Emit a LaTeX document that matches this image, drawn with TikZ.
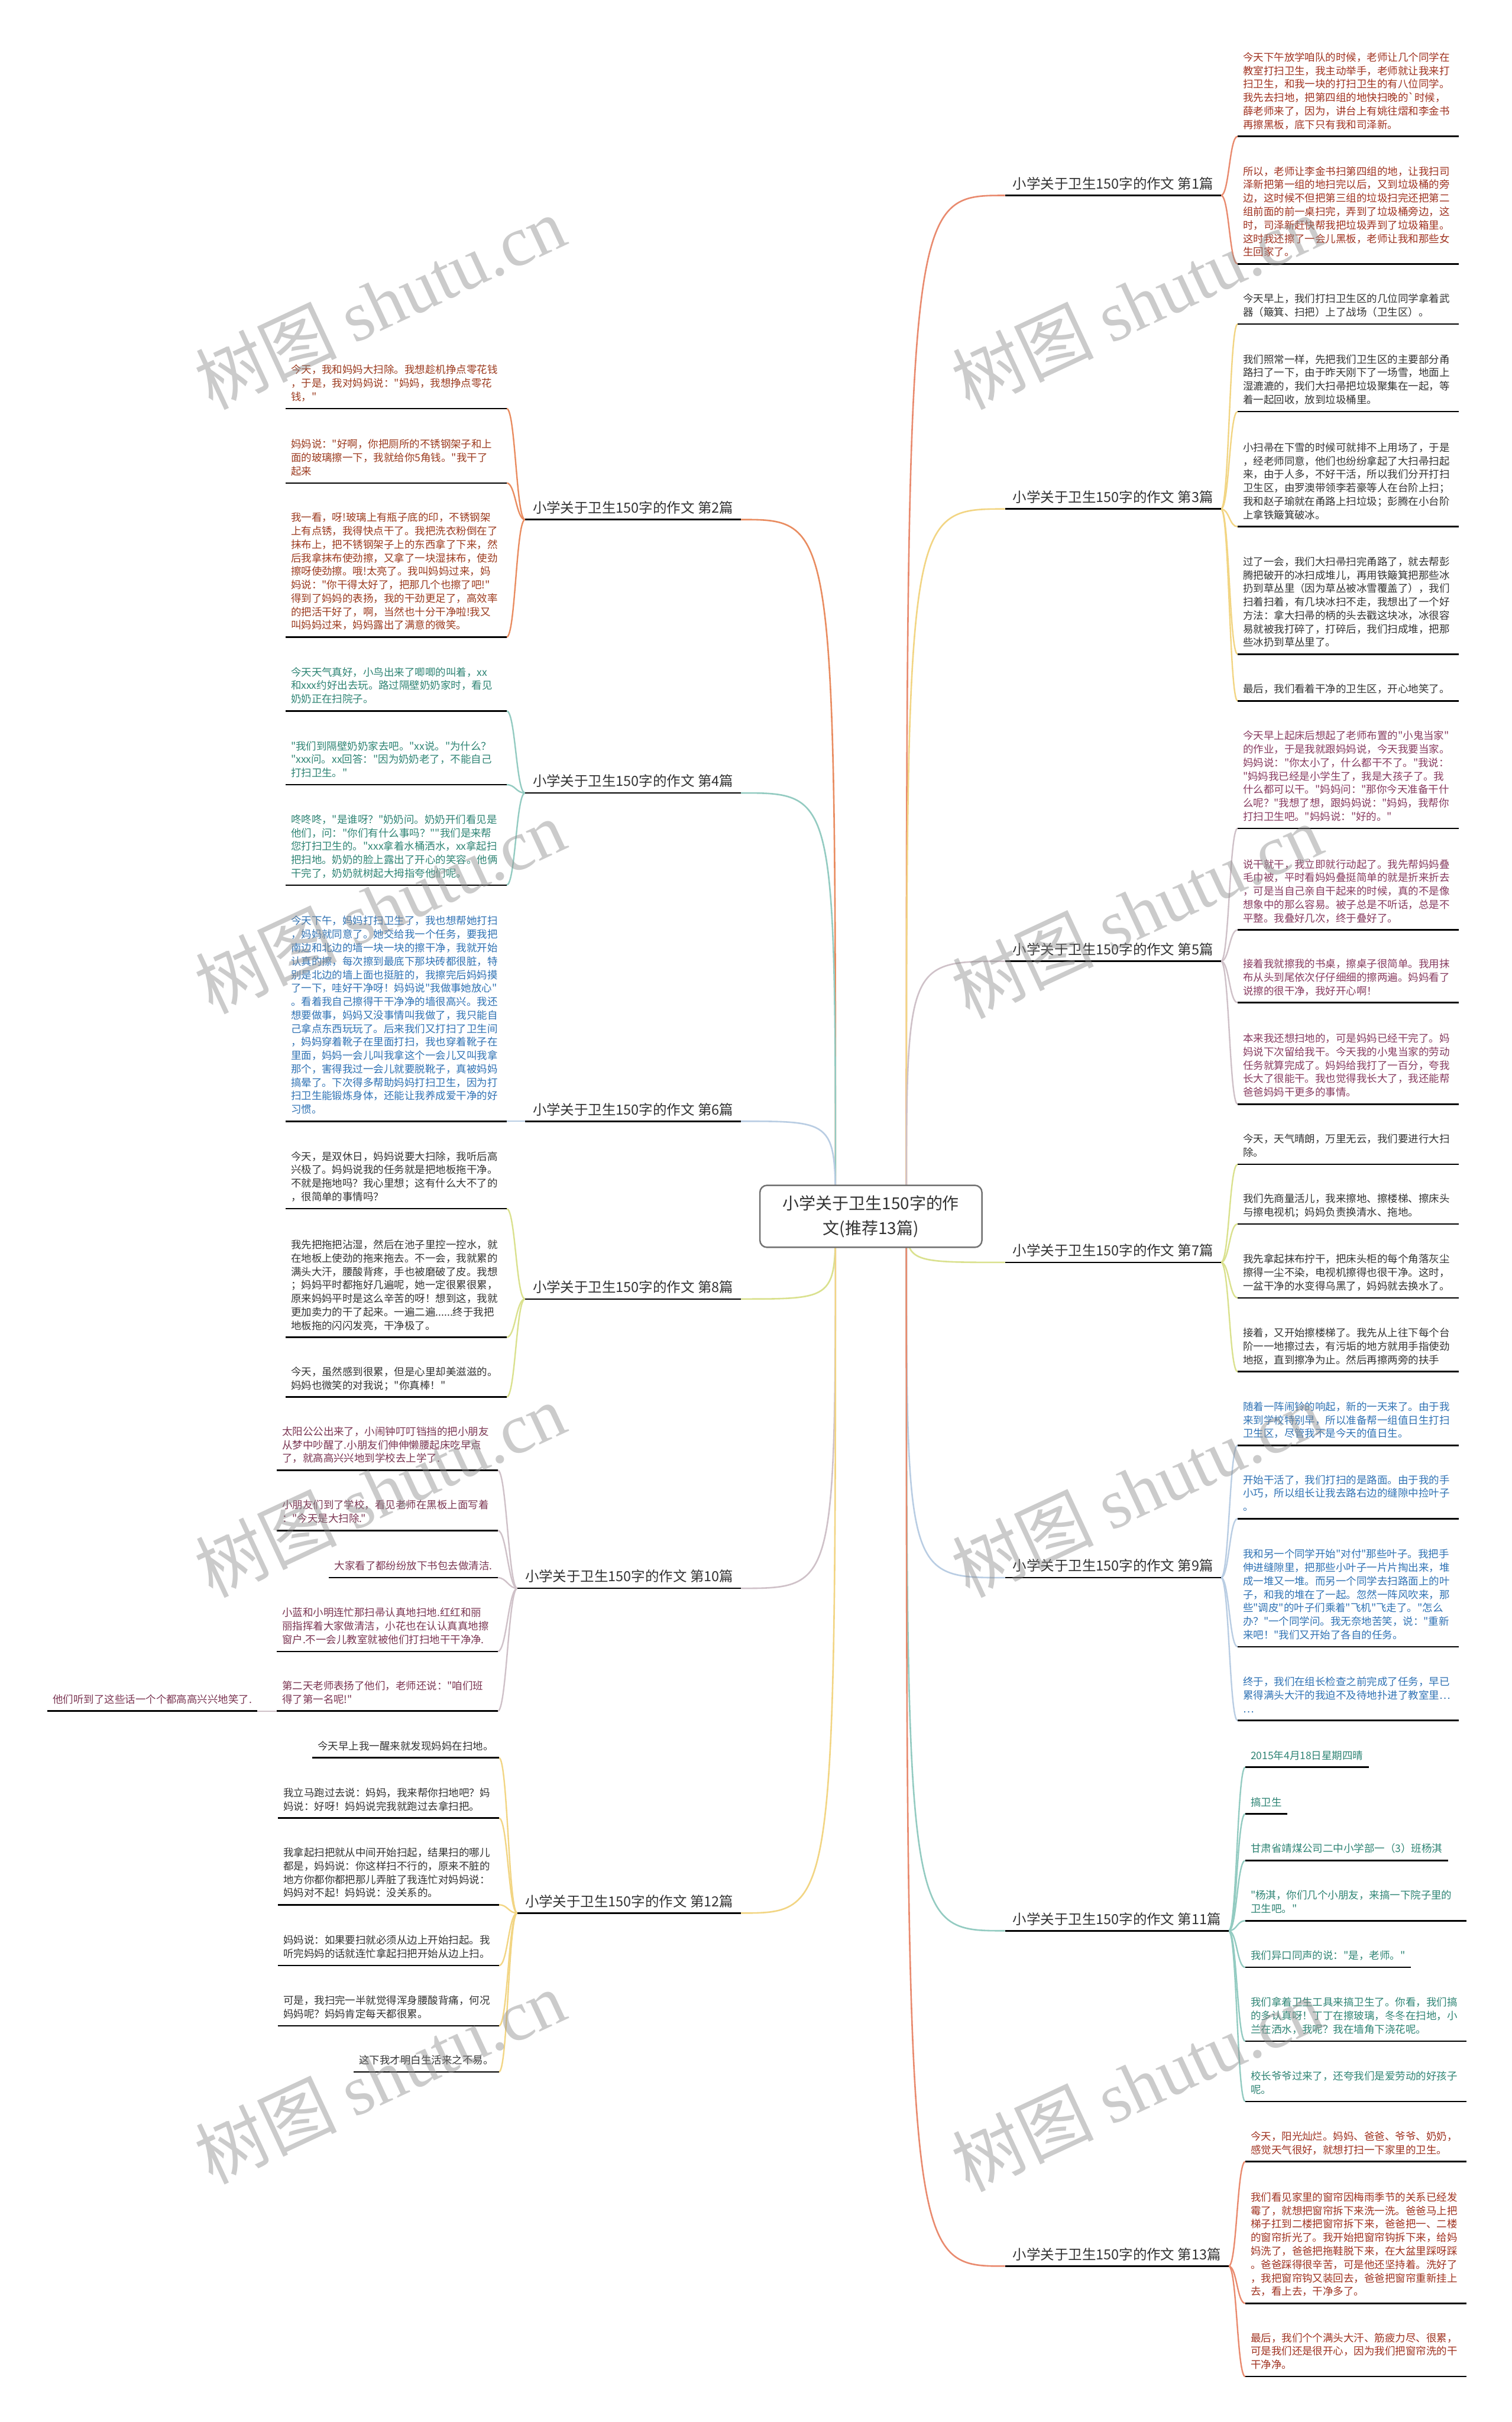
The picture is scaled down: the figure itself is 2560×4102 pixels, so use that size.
\documentclass[tikz,border=0pt]{standalone}
\usepackage{fontspec}
\setmainfont{Noto Sans CJK SC}[Ligatures=TeXOff]
\newfontfamily\wmfont{Liberation Serif}

\pgfdeclarelayer{background}
\pgfsetlayers{background,main}

\definecolor{cA}{HTML}{E98A6E}
\definecolor{cB}{HTML}{E98C60}
\definecolor{cC}{HTML}{F2D583}
\definecolor{cD}{HTML}{93CBC1}
\definecolor{cE}{HTML}{CFC1C8}
\definecolor{cF}{HTML}{B9CDE3}
\definecolor{cG}{HTML}{DAE18E}
\definecolor{tA}{HTML}{A03220}
\definecolor{tB}{HTML}{9C3A1E}
\definecolor{tK}{HTML}{333333}
\definecolor{tD}{HTML}{2E8474}
\definecolor{tE}{HTML}{883B60}
\definecolor{tF}{HTML}{2F72B4}
\definecolor{tJ}{HTML}{7B3552}

\newcommand\leaffont{\fontsize{17.5pt}{22.8pt}\selectfont}
\newcommand\labfont{\fontsize{23.5pt}{28pt}\selectfont}
\newcommand\rootfont{\fontsize{28pt}{42pt}\selectfont}
\newcommand\wmsize{\fontsize{120pt}{120pt}\selectfont}

\tikzset{
  tag/.style={anchor=south west, inner xsep=9pt, inner ysep=6.5pt, font=\leaffont, execute at end node=\strut},
  leaf/.style={tag, text width=356pt, align=left},
  lleaf/.style={leaf, anchor=south east},
  lab/.style={anchor=south west, inner xsep=13pt, inner ysep=2.6pt, font=\labfont, text=tK, execute at end node=\strut},
  llab/.style={lab, anchor=south east},
  branch/.style={draw=#1, line width=2.6pt},
  twig/.style={draw=#1, line width=2.4pt},
  ul/.style={draw=black, line width=2.6pt},
  wm/.style={rotate=25, text=black!45, opacity=0.45, font=\wmsize},
}

\begin{document}
\begin{tikzpicture}[x=1pt,y=-1pt]
\useasboundingbox (0,0) rectangle (2560,4102);
\begin{pgfonlayer}{background}
\fill[white] (0,0) rectangle (2560,4102);
\end{pgfonlayer}

\node[draw=black!55, line width=2.5pt, rounded corners=12pt, fill=white, minimum width=376pt, minimum height=105pt, align=center, font=\rootfont, text=tK] (root) at (1475,2060) {小学关于卫生150字的作\\文(推荐13篇)};
\coordinate (rootR) at ([xshift=60pt]root.center);
\coordinate (rootL) at ([xshift=-60pt]root.center);

% right side
\node[lab] (b1) at (1702,331) {小学关于卫生150字的作文 第1篇};
\node[leaf, text=tA] (b1a) at (2096,231) {今天下午放学咱队的时候，老师让几个同学在\\教室打扫卫生，我主动举手，老师就让我来打\\扫卫生，和我一块的打扫卫生的有八位同学。\\我先去扫地，把第四组的地快扫晚的`时候，\\薛老师来了，因为，讲台上有姚往熠和李金书\\再擦黑板，底下只有我和司泽新。};
\node[leaf, text=tA] (b1b) at (2096,447) {所以，老师让李金书扫第四组的地，让我扫司\\泽新把第一组的地扫完以后，又到垃圾桶的旁\\边，这时候不但把第三组的垃圾扫完还把第二\\组前面的前一桌扫完，弄到了垃圾桶旁边，这\\时，司泽新赶快帮我把垃圾弄到了垃圾箱里。\\这时我还擦了一会儿黑板，老师让我和那些女\\生回家了。};

\node[lab] (b3) at (1702,862) {小学关于卫生150字的作文 第3篇};
\node[leaf, text=tK] (b3a) at (2096,549) {今天早上，我们打扫卫生区的几位同学拿着武\\器（簸箕、扫把）上了战场（卫生区）。};
\node[leaf, text=tK] (b3b) at (2096,697) {我们照常一样，先把我们卫生区的主要部分甬\\路扫了一下，由于昨天刚下了一场雪，地面上\\湿漉漉的，我们大扫帚把垃圾聚集在一起，等\\着一起回收，放到垃圾桶里。};
\node[leaf, text=tK] (b3c) at (2096,892) {小扫帚在下雪的时候可就排不上用场了，于是\\，经老师同意，他们也纷纷拿起了大扫帚扫起\\来，由于人多，不好干活，所以我们分开打扫\\卫生区，由罗澳带领李若豪等人在台阶上扫；\\我和赵子瑜就在甬路上扫垃圾；彭腾在小台阶\\上拿铁簸箕破冰。};
\node[leaf, text=tK] (b3d) at (2096,1108) {过了一会，我们大扫帚扫完甬路了，就去帮彭\\腾把破开的冰扫成堆儿，再用铁簸箕把那些冰\\扔到草丛里（因为草丛被冰雪覆盖了），我们\\扫着扫着，有几块冰扫不走，我想出了一个好\\方法：拿大扫帚的柄的头去戳这块冰，冰很容\\易就被我打碎了，打碎后，我们扫成堆，把那\\些冰扔到草丛里了。};
\node[leaf, text=tK] (b3e) at (2096,1187) {最后，我们看着干净的卫生区，开心地笑了。};

\node[lab] (b5) at (1702,1628) {小学关于卫生150字的作文 第5篇};
\node[leaf, text=tE] (b5a) at (2096,1403) {今天早上起床后想起了老师布置的"小鬼当家"\\的作业，于是我就跟妈妈说，今天我要当家。\\妈妈说："你太小了，什么都干不了。"我说：\\"妈妈我已经是小学生了，我是大孩子了。我\\什么都可以干。"妈妈问："那你今天准备干什\\么呢？"我想了想，跟妈妈说："妈妈，我帮你\\打扫卫生吧。"妈妈说："好的。"};
\node[leaf, text=tE] (b5b) at (2096,1575) {说干就干，我立即就行动起了。我先帮妈妈叠\\毛巾被，平时看妈妈叠挺简单的就是折来折去\\，可是当自己亲自干起来的时候，真的不是像\\想象中的那么容易。被子总是不听话，总是不\\平整。我叠好几次，终于叠好了。};
\node[leaf, text=tE] (b5c) at (2096,1698) {接着我就擦我的书桌，擦桌子很简单。我用抹\\布从头到尾依次仔仔细细的擦两遍。妈妈看了\\说擦的很干净，我好开心啊！};
\node[leaf, text=tE] (b5d) at (2096,1870) {本来我还想扫地的，可是妈妈已经干完了。妈\\妈说下次留给我干。今天我的小鬼当家的劳动\\任务就算完成了。妈妈给我打了一百分，夸我\\长大了很能干。我也觉得我长大了，我还能帮\\爸爸妈妈干更多的事情。};

\node[lab] (b7) at (1702,2138) {小学关于卫生150字的作文 第7篇};
\node[leaf, text=tK] (b7a) at (2096,1972) {今天，天气晴朗，万里无云，我们要进行大扫\\除。};
\node[leaf, text=tK] (b7b) at (2096,2073) {我们先商量活儿，我来擦地、擦楼梯、擦床头\\与擦电视机；妈妈负责换清水、拖地。};
\node[leaf, text=tK] (b7c) at (2096,2198) {我先拿起抹布拧干，把床头柜的每个角落灰尘\\擦得一尘不染，电视机擦得也很干净。这时，\\一盆干净的水变得乌黑了，妈妈就去换水了。};
\node[leaf, text=tK] (b7d) at (2096,2323) {接着，又开始擦楼梯了。我先从上往下每个台\\阶一一地擦过去，有污垢的地方就用手指使劲\\地抠，直到擦净为止。然后再擦两旁的扶手};

\node[lab] (b9) at (1702,2672) {小学关于卫生150字的作文 第9篇};
\node[leaf, text=tF] (b9a) at (2096,2448) {随着一阵闹铃的响起，新的一天来了。由于我\\来到学校特别早，所以准备帮一组值日生打扫\\卫生区，尽管我不是今天的值日生。};
\node[leaf, text=tF] (b9b) at (2096,2572) {开始干活了，我们打扫的是路面。由于我的手\\小巧，所以组长让我去路右边的缝隙中捡叶子\\。};
\node[leaf, text=tF] (b9c) at (2096,2789) {我和另一个同学开始"对付"那些叶子。我把手\\伸进缝隙里，把那些小叶子一片片掏出来，堆\\成一堆又一堆。而另一个同学去扫路面上的叶\\子，和我的堆在了一起。忽然一阵风吹来，那\\些"调皮"的叶子们乘着"飞机"飞走了。"怎么\\办？"一个同学问。我无奈地苦笑，说："重新\\来吧！"我们又开始了各自的任务。};
\node[leaf, text=tF] (b9d) at (2096,2914) {终于，我们在组长检查之前完成了任务，早已\\累得满头大汗的我迫不及待地扑进了教室里…\\…};

\node[lab] (b11) at (1702,3270) {小学关于卫生150字的作文 第11篇};
\node[tag, text=tD] (b11a) at (2109,2993) {2015年4月18日星期四晴};
\node[tag, text=tD] (b11b) at (2109,3072) {搞卫生};
\node[tag, text=tD] (b11c) at (2109,3151) {甘肃省靖煤公司二中小学部一（3）班杨淇};
\node[leaf, text=tD] (b11d) at (2109,3253) {"杨淇，你们几个小朋友，来搞一下院子里的\\卫生吧。"};
\node[tag, text=tD] (b11e) at (2109,3332) {我们异口同声的说："是，老师。"};
\node[leaf, text=tD] (b11f) at (2109,3457) {我们拿着卫生工具来搞卫生了。你看，我们搞\\的多认真呀！丁丁在擦玻璃，冬冬在扫地，小\\兰在洒水，我呢？我在墙角下浇花呢。};
\node[leaf, text=tD] (b11g) at (2109,3559) {校长爷爷过来了，还夸我们是爱劳动的好孩子\\呢。};

\node[lab] (b13) at (1702,3838) {小学关于卫生150字的作文 第13篇};
\node[leaf, text=tA] (b13a) at (2109,3661) {今天，阳光灿烂。妈妈、爸爸、爷爷、奶奶，\\感觉天气很好，就想打扫一下家里的卫生。};
\node[leaf, text=tA] (b13b) at (2109,3901) {我们看见家里的窗帘因梅雨季节的关系已经发\\霉了，就想把窗帘拆下来洗一洗。爸爸马上把\\梯子扛到二楼把窗帘拆下来，爸爸把一、二楼\\的窗帘折光了。我开始把窗帘钩拆下来，给妈\\妈洗了，爸爸把拖鞋脱下来，在大盆里踩呀踩\\。爸爸踩得很辛苦，可是他还坚持着。洗好了\\，我把窗帘钩又装回去，爸爸把窗帘重新挂上\\去，看上去，干净多了。};
\node[leaf, text=tA] (b13c) at (2109,4025) {最后，我们个个满头大汗、筋疲力尽、很累，\\可是我们还是很开心，因为我们把窗帘洗的干\\干净净。};

% left side
\node[llab] (b2) at (1255,880) {小学关于卫生150字的作文 第2篇};
\node[lleaf, text=tB] (b2a) at (858,692) {今天，我和妈妈大扫除。我想趁机挣点零花钱\\，于是，我对妈妈说："妈妈，我想挣点零花\\钱，"};
\node[lleaf, text=tB] (b2b) at (858,818) {妈妈说："好啊，你把厕所的不锈钢架子和上\\面的玻璃擦一下，我就给你5角钱。"我干了\\起来};
\node[lleaf, text=tB] (b2c) at (858,1079) {我一看，呀!玻璃上有瓶子底的印，不锈钢架\\上有点锈，我得快点干了。我把洗衣粉倒在了\\抹布上，把不锈钢架子上的东西拿了下来，然\\后我拿抹布使劲擦，又拿了一块湿抹布，使劲\\擦呀使劲擦。哦!太亮了。我叫妈妈过来，妈\\妈说："你干得太好了，把那几个也擦了吧!"\\得到了妈妈的表扬，我的干劲更足了，高效率\\的把活干好了，啊，当然也十分干净啦!我又\\叫妈妈过来，妈妈露出了满意的微笑。};

\node[llab] (b4) at (1255,1343) {小学关于卫生150字的作文 第4篇};
\node[lleaf, text=tD] (b4a) at (858,1204) {今天天气真好，小鸟出来了唧唧的叫着，xx\\和xxx约好出去玩。路过隔壁奶奶家时，看见\\奶奶正在扫院子。};
\node[lleaf, text=tD] (b4b) at (858,1329) {"我们到隔壁奶奶家去吧。"xx说。"为什么？\\"xxx问。xx回答："因为奶奶老了，不能自己\\打扫卫生。"};
\node[lleaf, text=tD] (b4c) at (858,1499) {咚咚咚，"是谁呀？"奶奶问。奶奶开们看见是\\他们，问："你们有什么事吗？""我们是来帮\\您打扫卫生的。"xxx拿着水桶洒水，xx拿起扫\\把扫地。奶奶的脸上露出了开心的笑容。他俩\\干完了，奶奶就树起大拇指夸他们呢。};

\node[llab] (b6) at (1255,1899) {小学关于卫生150字的作文 第6篇};
\node[lleaf, text=tF] (b6a) at (858,1899) {今天下午，妈妈打扫卫生了，我也想帮她打扫\\，妈妈就同意了。她交给我一个任务，要我把\\南边和北边的墙一块一块的擦干净，我就开始\\认真的擦，每次擦到最底下那块砖都很脏，特\\别是北边的墙上面也挺脏的，我擦完后妈妈摸\\了一下，哇好干净呀！妈妈说"我做事她放心"\\。看着我自己擦得干干净净的墙很高兴。我还\\想要做事，妈妈又没事情叫我做了，我只能自\\己拿点东西玩玩了。后来我们又打扫了卫生间\\，妈妈穿着靴子在里面打扫，我也穿着靴子在\\里面，妈妈一会儿叫我拿这个一会儿又叫我拿\\那个，害得我过一会儿就要脱靴子，真被妈妈\\搞晕了。下次得多帮助妈妈打扫卫生，因为打\\扫卫生能锻炼身体，还能让我养成爱干净的好\\习惯。};

\node[llab] (b8) at (1255,2200) {小学关于卫生150字的作文 第8篇};
\node[lleaf, text=tK] (b8a) at (858,2047) {今天，是双休日，妈妈说要大扫除，我听后高\\兴极了。妈妈说我的任务就是把地板拖干净。\\不就是拖地吗？我心里想；这有什么大不了的\\，很简单的事情吗？};
\node[lleaf, text=tK] (b8b) at (858,2265) {我先把拖把沾湿，然后在池子里控一控水，就\\在地板上使劲的拖来拖去。不一会，我就累的\\满头大汗，腰酸背疼，手也被磨破了皮。我想\\；妈妈平时都拖好几遍呢，她一定很累很累，\\原来妈妈平时是这么辛苦的呀！想到这，我就\\更加卖力的干了起来。一遍二遍......终于我把\\地板拖的闪闪发亮，干净极了。};
\node[lleaf, text=tK] (b8c) at (858,2366) {今天，虽然感到很累，但是心里却美滋滋的。\\妈妈也微笑的对我说；"你真棒！"};

\node[llab] (b10) at (1255,2690) {小学关于卫生150字的作文 第10篇};
\node[lleaf, text=tJ] (b10a) at (843,2490) {太阳公公出来了，小闹钟叮叮铛挡的把小朋友\\从梦中吵醒了.小朋友们伸伸懒腰起床吃早点\\了，就高高兴兴地到学校去上学了.};
\node[lleaf, text=tJ] (b10b) at (843,2592) {小朋友们到了学校，看见老师在黑板上面写着\\："今天是大扫除."};
\node[tag, anchor=south east, text=tJ] (b10c) at (843,2672) {大家看了都纷纷放下书包去做清洁.};
\node[lleaf, text=tJ] (b10d) at (843,2797) {小蓝和小明连忙那扫帚认真地扫地.红红和丽\\丽指挥着大家做清洁，小花也在认认真真地擦\\窗户.不一会儿教室就被他们打扫地干干净净.};
\node[lleaf, text=tJ] (b10e) at (843,2898) {第二天老师表扬了他们，老师还说："咱们班\\得了第一名呢!"};
\node[tag, anchor=south east, text=tJ] (b10f) at (436,2898) {他们听到了这些话一个个都高高兴兴地笑了.};

\node[llab] (b12) at (1255,3240) {小学关于卫生150字的作文 第12篇};
\node[tag, anchor=south east, text=tK] (b12a) at (845,2977) {今天早上我一醒来就发现妈妈在扫地。};
\node[lleaf, text=tK] (b12b) at (845,3079) {我立马跑过去说：妈妈，我来帮你扫地吧？妈\\妈说：好呀！妈妈说完我就跑过去拿扫把。};
\node[lleaf, text=tK] (b12c) at (845,3226) {我拿起扫把就从中间开始扫起，结果扫的哪儿\\都是，妈妈说：你这样扫不行的，原来不脏的\\地方你都你都把那儿弄脏了我连忙对妈妈说：\\妈妈对不起！妈妈说：没关系的。};
\node[lleaf, text=tK] (b12d) at (845,3329) {妈妈说：如果要扫就必须从边上开始扫起。我\\听完妈妈的话就连忙拿起扫把开始从边上扫。};
\node[lleaf, text=tK] (b12e) at (845,3431) {可是，我扫完一半就觉得浑身腰酸背痛，何况\\妈妈呢？妈妈肯定每天都很累。};
\node[tag, anchor=south east, text=tK] (b12f) at (845,3509) {这下我才明白生活来之不易。};

% connectors
\begin{pgfonlayer}{background}
\foreach \b/\c in {b1/cA,b3/cC,b5/cE,b7/cG,b9/cF,b11/cD,b13/cA}
  \draw[branch=\c] (rootR) .. controls (rootR |- \b.south west) .. (\b.south west);
\foreach \b/\c in {b2/cB,b4/cD,b6/cF,b8/cG,b10/cE,b12/cC}
  \draw[branch=\c] (rootL) .. controls (rootL |- \b.south east) .. (\b.south east);

\foreach \l in {b1a,b1b}
  \draw[twig=cA] (b1.south east) .. controls +(14,0) and +(-14,0) .. (\l.south west);
\foreach \l in {b3a,b3b,b3c,b3d,b3e}
  \draw[twig=cC] (b3.south east) .. controls +(14,0) and +(-14,0) .. (\l.south west);
\foreach \l in {b5a,b5b,b5c,b5d}
  \draw[twig=cE] (b5.south east) .. controls +(14,0) and +(-14,0) .. (\l.south west);
\foreach \l in {b7a,b7b,b7c,b7d}
  \draw[twig=cG] (b7.south east) .. controls +(14,0) and +(-14,0) .. (\l.south west);
\foreach \l in {b9a,b9b,b9c,b9d}
  \draw[twig=cF] (b9.south east) .. controls +(14,0) and +(-14,0) .. (\l.south west);
\foreach \l in {b11a,b11b,b11c,b11d,b11e,b11f,b11g}
  \draw[twig=cD] (b11.south east) .. controls +(14,0) and +(-14,0) .. (\l.south west);
\foreach \l in {b13a,b13b,b13c}
  \draw[twig=cA] (b13.south east) .. controls +(14,0) and +(-14,0) .. (\l.south west);

\foreach \l in {b2a,b2b,b2c}
  \draw[twig=cB] (b2.south west) .. controls +(-15,0) and +(15,0) .. (\l.south east);
\foreach \l in {b4a,b4b,b4c}
  \draw[twig=cD] (b4.south west) .. controls +(-15,0) and +(15,0) .. (\l.south east);
\draw[twig=cF] (b6.south west) -- (b6a.south east);
\foreach \l in {b8a,b8b,b8c}
  \draw[twig=cG] (b8.south west) .. controls +(-15,0) and +(15,0) .. (\l.south east);
\foreach \l in {b10a,b10b,b10c,b10d,b10e}
  \draw[twig=cE] (b10.south west) .. controls +(-15,0) and +(15,0) .. (\l.south east);
\draw[twig=cE] (b10e.south west) -- (b10f.south east);
\foreach \l in {b12a,b12b,b12c,b12d,b12e,b12f}
  \draw[twig=cC] (b12.south west) .. controls +(-15,0) and +(15,0) .. (\l.south east);
\end{pgfonlayer}

\foreach \n in {b1,b1a,b1b,b2,b2a,b2b,b2c,b3,b3a,b3b,b3c,b3d,b3e,b4,b4a,b4b,b4c,b5,b5a,b5b,b5c,b5d,b6,b6a,b7,b7a,b7b,b7c,b7d,b8,b8a,b8b,b8c,b9,b9a,b9b,b9c,b9d,b10,b10a,b10b,b10c,b10d,b10e,b10f,b11,b11a,b11b,b11c,b11d,b11e,b11f,b11g,b12,b12a,b12b,b12c,b12d,b12e,b12f,b13,b13a,b13b,b13c}
  \draw[ul] (\n.south west) -- (\n.south east);

\foreach \x/\y [count=\i] in {643/512,1925/512,643/1535,1925/1543,643/2523,1925/2523,643/3517,1925/3530}
  \node[wm] (wm\i) at (\x,\y) {树图 {\wmfont shutu.cn}};
\end{tikzpicture}
\end{document}
